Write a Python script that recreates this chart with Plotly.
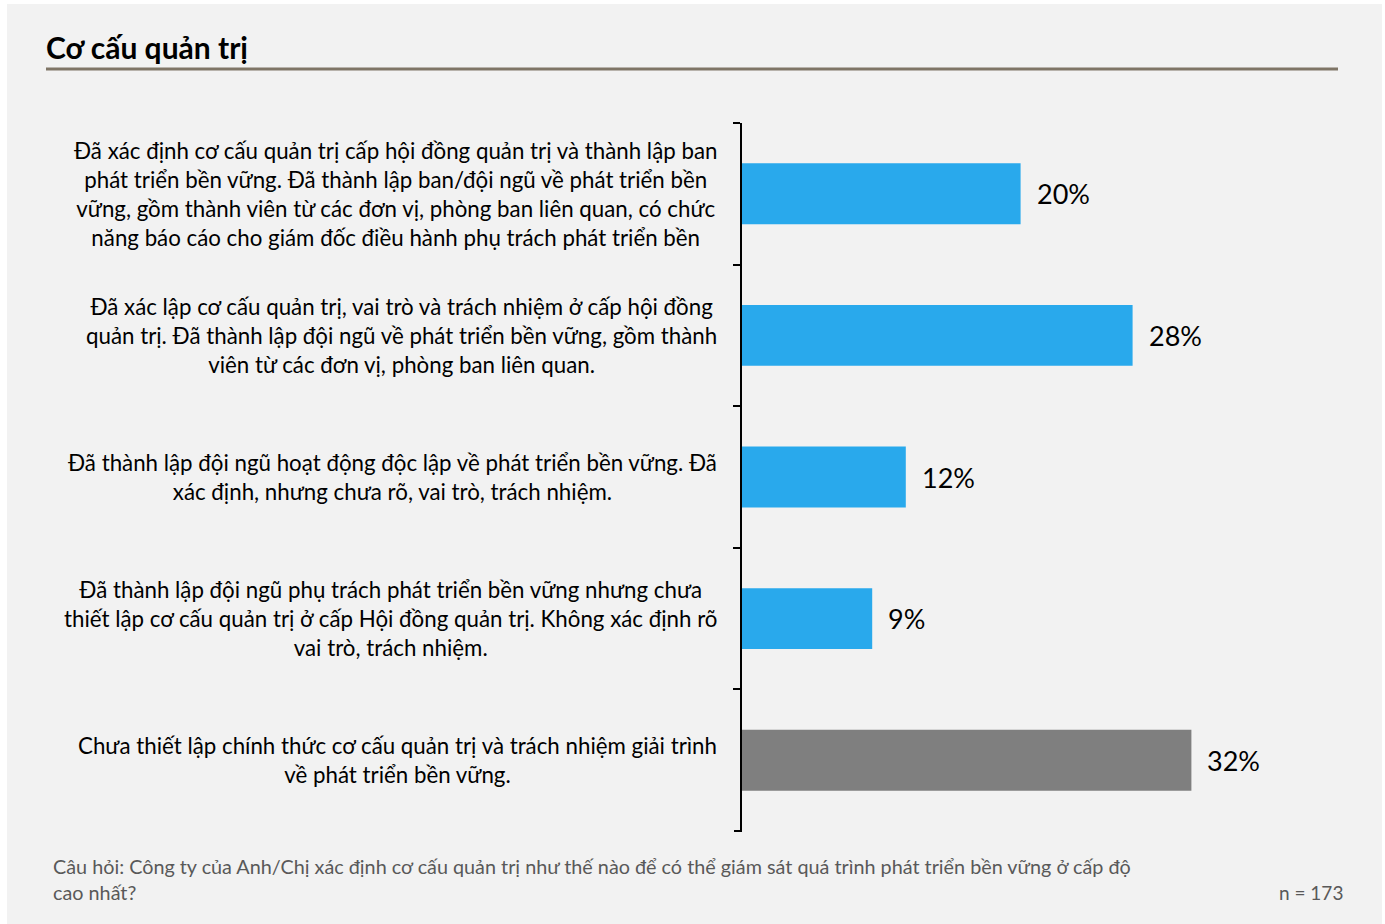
import plotly.graph_objects as go

title_text = "Cơ cấu quản trị"
categories = [
    "Đã xác định cơ cấu quản trị cấp hội đồng quản trị và thành lập ban<br>phát triển bền vững. Đã thành lập ban/đội ngũ về phát triển bền<br>vững, gồm thành viên từ các đơn vị, phòng ban liên quan, có chức<br>năng báo cáo cho giám đốc điều hành phụ trách phát triển bền",
    "Đã xác lập cơ cấu quản trị, vai trò và trách nhiệm ở cấp hội đồng<br>quản trị. Đã thành lập đội ngũ về phát triển bền vững, gồm thành<br>viên từ các đơn vị, phòng ban liên quan.",
    "Đã thành lập đội ngũ hoạt động độc lập về phát triển bền vững. Đã<br>xác định, nhưng chưa rõ, vai trò, trách nhiệm.",
    "Đã thành lập đội ngũ phụ trách phát triển bền vững nhưng chưa<br>thiết lập cơ cấu quản trị ở cấp Hội đồng quản trị. Không xác định rõ<br>vai trò, trách nhiệm.",
    "Chưa thiết lập chính thức cơ cấu quản trị và trách nhiệm giải trình<br>về phát triển bền vững.",
]
values = [19.9, 27.9, 11.7, 9.3, 32.1]
labels = ["20%", "28%", "12%", "9%", "32%"]
colors = ["#29a9ec", "#29a9ec", "#29a9ec", "#29a9ec", "#7f7f7f"]
footnote = "Câu hỏi: Công ty của Anh/Chị xác định cơ cấu quản trị như thế nào để có thể giám sát quá trình phát triển bền vững ở cấp độ<br>cao nhất?"
sample = "n = 173"

FONT = "Lato, 'Open Sans', sans-serif"
W, H = 1385, 924
L, R, T, B = 742, 47, 123, 93
pw = W - L - R
ph = H - T - B

def px(x):
    return (x - L) / pw

def py(y):
    return (H - B - y) / ph

fig = go.Figure()
fig.add_trace(go.Bar(
    x=values, y=categories, orientation="h",
    marker=dict(color=colors, line=dict(width=0)),
    width=0.43, hoverinfo="skip",
))

# data labels
for c, v, t in zip(categories, values, labels):
    fig.add_annotation(x=v, y=c, xref="x", yref="y", text=t, showarrow=False,
                       xanchor="left", yanchor="middle", xshift=14,
                       font=dict(family=FONT, size=27, color="#000000"))

# category labels
for c in categories:
    fig.add_annotation(x=px(719), y=c, xref="paper", yref="y", text=c, showarrow=False,
                       xanchor="right", yanchor="middle", align="center",
                       font=dict(family=FONT, size=22.3, color="#000000"))

# title
fig.add_annotation(x=px(44), y=py(47), xref="paper", yref="paper", text="<b>" + title_text + "</b>",
                   showarrow=False, xanchor="left", yanchor="middle",
                   font=dict(family=FONT, size=30, color="#000000"))
# footnote
fig.add_annotation(x=px(51), y=py(879), xref="paper", yref="paper", text=footnote,
                   showarrow=False, xanchor="left", yanchor="middle", align="left",
                   font=dict(family=FONT, size=19.8, color="#595959"))
fig.add_annotation(x=px(1345), y=py(892), xref="paper", yref="paper", text=sample,
                   showarrow=False, xanchor="right", yanchor="middle",
                   font=dict(family=FONT, size=19, color="#595959"))

# background panel and title rule
fig.add_shape(type="rect", xref="paper", yref="paper", layer="below",
              x0=px(7), x1=px(1382), y0=py(930), y1=py(4),
              fillcolor="#f2f2f2", line=dict(width=0))
fig.add_shape(type="line", xref="paper", yref="paper",
              x0=px(46), x1=px(1338), y0=py(69), y1=py(69),
              line=dict(color="#7f7566", width=3))
# closing tick at the bottom end of the category axis
fig.add_shape(type="line", xref="paper", yref="paper",
              x0=px(734), x1=px(742), y0=0, y1=0,
              line=dict(color="#000000", width=2))

fig.update_layout(
    width=W, height=H,
    margin=dict(l=L, r=R, t=T, b=B),
    paper_bgcolor="#ffffff", plot_bgcolor="rgba(0,0,0,0)",
    showlegend=False, bargap=0.57,
    font=dict(family=FONT),
)
fig.update_xaxes(range=[0, pw / 14.0], visible=False, showgrid=False, zeroline=False)
fig.update_yaxes(
    categoryorder="array", categoryarray=categories, range=[4.5, -0.5],
    showline=True, linecolor="#000000", linewidth=2,
    ticks="outside", tickson="boundaries", ticklen=7, tickwidth=2, tickcolor="#000000",
    showticklabels=False, showgrid=False, zeroline=False,
)

fig.write_html("out.html", config={"displayModeBar": False},
               post_script="document.body.style.margin='0';document.body.style.padding='0';")
